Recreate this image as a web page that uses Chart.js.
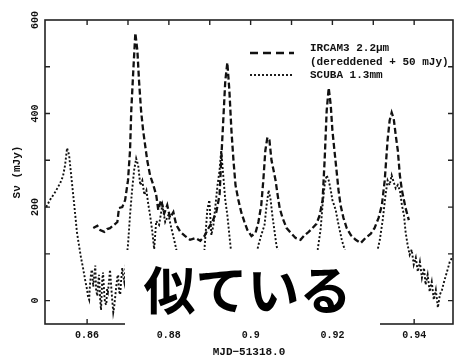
<!DOCTYPE html>
<html><head><meta charset="utf-8">
<script src="https://cdn.jsdelivr.net/npm/chart.js@4"></script>
<style>
html,body{margin:0;padding:0;background:#fff;}
#wrap{position:relative;width:456px;height:362px;overflow:hidden;}
#overlay{position:absolute;left:125px;top:250px;width:255px;height:80px;background:#fff;font-family:'Noto Sans CJK JP';font-weight:700;font-size:52px;line-height:76px;text-align:center;color:#000;padding-right:10px;box-sizing:border-box;}
</style></head><body>
<div id="wrap"><canvas id="c" width="456" height="362"></canvas><div id="overlay">似ている</div></div>
<script>
const legendLines = [['IRCAM3 2.2μm', '(dereddened + 50 mJy)'], ['SCUBA 1.3mm']];
const xTitle = 'MJD−51318.0';
const yTitle = 'Sν (mJy)';
const xTickValues = [0.85, 0.86, 0.87, 0.88, 0.89, 0.90, 0.91, 0.92, 0.93, 0.94];
const xTickLabels = ['', '0.86', '', '0.88', '', '0.9', '', '0.92', '', '0.94'];
const yTickValues = [0, 100, 200, 300, 400, 500, 600];
const yTickLabels = ['0', '', '200', '', '400', '', '600'];

const ircamX = [0.8615,0.8625,0.8632,0.8642,0.8649,0.8656,0.8666,0.8674,0.8678,0.8686,0.8693,0.8700,0.8705,0.8708,0.8713,0.8718,0.8723,0.8727,0.8732,0.8737,0.8742,0.8747,0.8754,0.8762,0.8769,0.8774,0.8781,0.8789,0.8796,0.8803,0.8811,0.8818,0.8828,0.8840,0.8852,0.8865,0.8877,0.8887,0.8897,0.8906,0.8916,0.8924,0.8928,0.8933,0.8938,0.8943,0.8948,0.8953,0.8958,0.8963,0.8970,0.8977,0.8985,0.8992,0.9002,0.9012,0.9019,0.9026,0.9031,0.9036,0.9041,0.9046,0.9051,0.9056,0.9061,0.9066,0.9071,0.9078,0.9088,0.9098,0.9110,0.9122,0.9132,0.9142,0.9151,0.9161,0.9169,0.9176,0.9181,0.9186,0.9191,0.9196,0.9200,0.9205,0.9210,0.9215,0.9220,0.9227,0.9235,0.9245,0.9257,0.9269,0.9281,0.9294,0.9303,0.9313,0.9321,0.9328,0.9335,0.9340,0.9345,0.9350,0.9355,0.9360,0.9365,0.9370,0.9375,0.9379,0.9387];
const ircamY = [155,160,151,147,153,155,162,168,198,200,215,257,321,406,492,572,534,470,406,364,332,300,268,247,226,194,215,187,204,177,189,162,147,138,130,134,128,138,155,168,189,226,300,385,470,509,449,364,300,247,215,189,168,151,138,145,168,204,257,321,349,343,300,279,257,226,198,177,155,145,134,130,140,147,155,164,183,215,300,406,455,417,364,321,279,236,204,177,155,140,130,123,134,143,155,177,204,257,343,385,402,389,353,321,268,236,215,198,172];

const scubaX = [0.8500,0.8509,0.8522,0.8534,0.8541,0.8546,0.8551,0.8556,0.8561,0.8566,0.8571,0.8575,0.8580,0.8585,0.8590,0.8595,0.8600,
0.8602,0.8605,0.8607,0.8610,0.8612,0.8615,0.8617,0.8620,0.8622,0.8625,0.8627,0.8629,0.8632,0.8634,0.8637,0.8639,0.8642,0.8644,0.8647,0.8649,0.8651,0.8654,0.8656,0.8659,0.8661,0.8664,0.8666,0.8669,0.8671,0.8674,0.8676,0.8678,0.8681,0.8683,0.8686,0.8688,0.8691,0.8693,0.8696,
0.8700,0.8705,0.8710,0.8715,0.8720,0.8725,0.8730,0.8735,0.8740,0.8745,0.8750,0.8754,0.8759,0.8764,0.8769,0.8776,0.8784,0.8791,0.8799,0.8806,0.8813,0.8821,0.8828,0.8840,0.8852,0.8865,0.8877,0.8887,0.8894,0.8899,0.8904,0.8909,0.8914,0.8919,0.8924,0.8928,0.8933,0.8938,0.8943,0.8948,0.8953,0.8960,0.8970,0.8980,0.8990,0.9000,0.9009,0.9019,0.9026,0.9034,0.9039,0.9044,0.9049,0.9053,0.9058,0.9063,0.9071,0.9080,0.9093,0.9105,0.9117,0.9130,0.9142,0.9154,0.9164,0.9171,0.9176,0.9181,0.9186,0.9191,0.9196,0.9200,0.9208,0.9215,0.9223,0.9230,0.9240,0.9250,0.9262,0.9274,0.9286,0.9299,0.9308,0.9316,0.9323,0.9330,0.9335,0.9340,0.9345,0.9350,0.9355,0.9360,0.9365,0.9370,0.9375,0.9379,0.9384,0.9389,0.9394,0.9399,0.9404,0.9409,0.9414,0.9419,0.9424,0.9428,0.9433,0.9438,0.9443,0.9448,0.9453,0.9458,0.9463,0.9468,0.9473,0.9478,0.9483,0.9487,0.9495];
const scubaY = [200,215,232,251,266,289,326,311,268,226,183,147,119,92,70,45,23,
10,2,34,60,66,30,49,75,23,10,38,55,2,-20,45,60,13,-5,-9,25,19,45,66,30,6,-25,-15,10,28,50,55,20,13,40,70,55,40,60,87,
119,183,236,279,304,289,247,257,226,236,204,183,151,110,170,162,204,168,183,155,130,98,66,34,55,23,70,109,194,215,140,162,204,247,279,321,268,215,183,140,98,66,34,55,23,45,77,119,140,162,204,236,215,183,151,119,87,45,23,55,34,66,34,77,109,151,204,247,268,257,236,215,194,162,130,109,77,45,23,55,28,66,98,130,172,226,257,247,268,253,240,247,236,204,183,147,119,98,109,77,92,62,83,49,70,34,55,19,40,2,23,-15,13,23,40,55,70,83,95];

const monoFont = "'Liberation Mono', 'DejaVu Sans Mono', monospace";
const ink = '#111';

const framePlugin = {
  id: 'frame',
  afterDatasetsDraw(chart) {
    const ctx = chart.ctx, a = chart.chartArea;
    const xs = chart.scales.x, ys = chart.scales.y;
    const tl = 5;
    ctx.save();
    ctx.strokeStyle = '#222';
    ctx.lineWidth = 1.6;
    ctx.setLineDash([]);
    ctx.strokeRect(a.left, a.top, a.right - a.left, a.bottom - a.top);
    ctx.lineWidth = 1.4;
    ctx.beginPath();
    xs.ticks.forEach(t => {
      const p = xs.getPixelForValue(t.value);
      if (p <= a.left + 2 || p >= a.right - 2) return;
      ctx.moveTo(p, a.bottom); ctx.lineTo(p, a.bottom - tl);
      ctx.moveTo(p, a.top); ctx.lineTo(p, a.top + tl);
    });
    ys.ticks.forEach(t => {
      const p = ys.getPixelForValue(t.value);
      if (p <= a.top + 2 || p >= a.bottom - 2) return;
      ctx.moveTo(a.left, p); ctx.lineTo(a.left + tl, p);
      ctx.moveTo(a.right, p); ctx.lineTo(a.right - tl, p);
    });
    ctx.stroke();

    // legend
    const dsets = chart.data.datasets;
    ctx.fillStyle = ink;
    ctx.font = 'bold 11px ' + monoFont;
    ctx.textBaseline = 'middle';
    ctx.textAlign = 'left';
    const entries = [{ds: dsets[0], lineY: 53, textY: [48, 62]}, {ds: dsets[1], lineY: 75, textY: [75]}];
    entries.forEach((e, i) => {
      ctx.strokeStyle = e.ds.borderColor;
      ctx.lineWidth = e.ds.borderWidth;
      ctx.setLineDash(i === 0 ? [8, 5] : e.ds.borderDash);
      ctx.beginPath(); ctx.moveTo(250, e.lineY); ctx.lineTo(294, e.lineY); ctx.stroke();
      legendLines[i].forEach((txt, j) => ctx.fillText(txt, 310, e.textY[j]));
    });
    ctx.restore();
  }
};

new Chart(document.getElementById('c'), {
  type: 'scatter',
  data: {
    datasets: [
      { label: legendLines[0].join(' '), data: ircamX.map((x, i) => ({x, y: ircamY[i]})), showLine: true, pointRadius: 0,
        borderColor: ink, borderWidth: 2.3, borderDash: [6, 3], tension: 0 },
      { label: legendLines[1][0], data: scubaX.map((x, i) => ({x, y: scubaY[i]})), showLine: true, pointRadius: 0,
        borderColor: ink, borderWidth: 1.9, borderDash: [2, 2], tension: 0 }
    ]
  },
  options: {
    responsive: false, animation: false, devicePixelRatio: 1,
    layout: { padding: { left: 0, right: 3, top: 20, bottom: 0 } },
    plugins: { legend: { display: false }, tooltip: { enabled: false } },
    scales: {
      x: {
        type: 'linear', min: 0.8497, max: 0.9495,
        afterBuildTicks(s) { s.ticks = xTickValues.map(v => ({value: v})); },
        afterFit(s) { s.height = 38; },
        grid: { display: false, drawTicks: false }, border: { display: false },
        ticks: { autoSkip: false, maxRotation: 0, minRotation: 0, padding: 5, color: ink,
          font: { family: monoFont, size: 10, weight: 'bold' },
          callback: (v, i) => xTickLabels[i] },
        title: { display: true, text: xTitle, color: ink, font: { family: monoFont, size: 11, weight: 'bold', lineHeight: 1.2 }, padding: { top: 0, bottom: 3 } }
      },
      y: {
        type: 'linear', min: -50, max: 600,
        afterBuildTicks(s) { s.ticks = yTickValues.map(v => ({value: v})); },
        afterFit(s) { s.width = 45; },
        grid: { display: false, drawTicks: false }, border: { display: false },
        ticks: { minRotation: 90, maxRotation: 90, crossAlign: 'center', padding: 1, color: ink,
          font: { family: monoFont, size: 10, weight: 'bold' },
          callback: (v, i) => yTickLabels[i] },
        title: { display: true, text: yTitle, color: ink, font: { family: monoFont, size: 11, weight: 'bold', lineHeight: 1.2 }, padding: { top: 11, bottom: 0 } }
      }
    }
  },
  plugins: [framePlugin]
});
</script>
</body></html>
